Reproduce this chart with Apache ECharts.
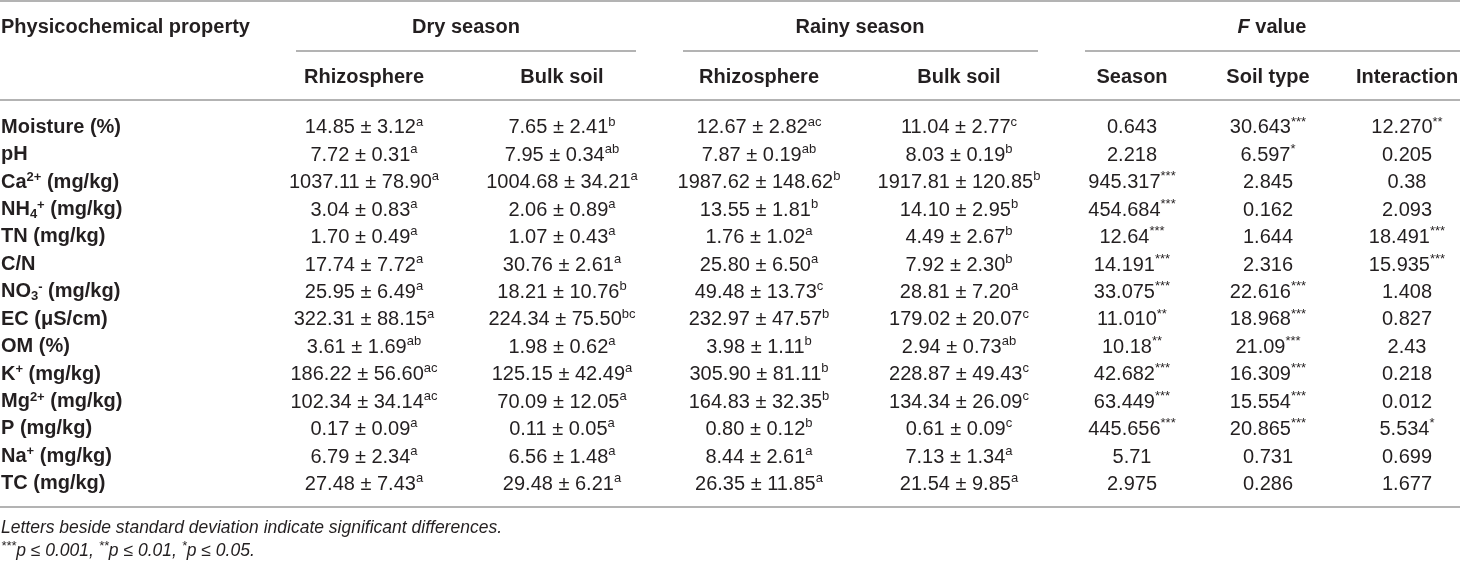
<!DOCTYPE html>
<html>
<head>
<meta charset="utf-8">
<script src="https://cdn.jsdelivr.net/npm/echarts@6/dist/echarts.min.js"></script>
<style>
  html, body { margin: 0; padding: 0; background: #fff; }
  #main { width: 1460px; height: 564px; }
</style>
</head>
<body>
<div id="main"></div>
<script>
// 行名（富文本：supB 上标，subB 下标）
var properties = [
  'Moisture (%)', 'pH', 'Ca{supB|2+} (mg/kg)', 'NH{subB|4}{supB|+} (mg/kg)', 'TN (mg/kg)', 'C/N',
  'NO{subB|3}{supB|-} (mg/kg)', 'EC (\u03bcS/cm)', 'OM (%)', 'K{supB|+} (mg/kg)', 'Mg{supB|2+} (mg/kg)',
  'P (mg/kg)', 'Na{supB|+} (mg/kg)', 'TC (mg/kg)'
];

// 均值 ± 标准差，显著性字母
var dryRhizo = [
  ['14.85', '3.12', 'a'], ['7.72', '0.31', 'a'], ['1037.11', '78.90', 'a'], ['3.04', '0.83', 'a'],
  ['1.70', '0.49', 'a'], ['17.74', '7.72', 'a'], ['25.95', '6.49', 'a'], ['322.31', '88.15', 'a'],
  ['3.61', '1.69', 'ab'], ['186.22', '56.60', 'ac'], ['102.34', '34.14', 'ac'], ['0.17', '0.09', 'a'],
  ['6.79', '2.34', 'a'], ['27.48', '7.43', 'a']
];
var dryBulk = [
  ['7.65', '2.41', 'b'], ['7.95', '0.34', 'ab'], ['1004.68', '34.21', 'a'], ['2.06', '0.89', 'a'],
  ['1.07', '0.43', 'a'], ['30.76', '2.61', 'a'], ['18.21', '10.76', 'b'], ['224.34', '75.50', 'bc'],
  ['1.98', '0.62', 'a'], ['125.15', '42.49', 'a'], ['70.09', '12.05', 'a'], ['0.11', '0.05', 'a'],
  ['6.56', '1.48', 'a'], ['29.48', '6.21', 'a']
];
var rainyRhizo = [
  ['12.67', '2.82', 'ac'], ['7.87', '0.19', 'ab'], ['1987.62', '148.62', 'b'], ['13.55', '1.81', 'b'],
  ['1.76', '1.02', 'a'], ['25.80', '6.50', 'a'], ['49.48', '13.73', 'c'], ['232.97', '47.57', 'b'],
  ['3.98', '1.11', 'b'], ['305.90', '81.11', 'b'], ['164.83', '32.35', 'b'], ['0.80', '0.12', 'b'],
  ['8.44', '2.61', 'a'], ['26.35', '11.85', 'a']
];
var rainyBulk = [
  ['11.04', '2.77', 'c'], ['8.03', '0.19', 'b'], ['1917.81', '120.85', 'b'], ['14.10', '2.95', 'b'],
  ['4.49', '2.67', 'b'], ['7.92', '2.30', 'b'], ['28.81', '7.20', 'a'], ['179.02', '20.07', 'c'],
  ['2.94', '0.73', 'ab'], ['228.87', '49.43', 'c'], ['134.34', '26.09', 'c'], ['0.61', '0.09', 'c'],
  ['7.13', '1.34', 'a'], ['21.54', '9.85', 'a']
];

// F 值与显著性星号
var fSeason = [
  ['0.643', ''], ['2.218', ''], ['945.317', '***'], ['454.684', '***'], ['12.64', '***'], ['14.191', '***'],
  ['33.075', '***'], ['11.010', '**'], ['10.18', '**'], ['42.682', '***'], ['63.449', '***'], ['445.656', '***'],
  ['5.71', ''], ['2.975', '']
];
var fSoilType = [
  ['30.643', '***'], ['6.597', '*'], ['2.845', ''], ['0.162', ''], ['1.644', ''], ['2.316', ''],
  ['22.616', '***'], ['18.968', '***'], ['21.09', '***'], ['16.309', '***'], ['15.554', '***'], ['20.865', '***'],
  ['0.731', ''], ['0.286', '']
];
var fInteraction = [
  ['12.270', '**'], ['0.205', ''], ['0.38', ''], ['2.093', ''], ['18.491', '***'], ['15.935', '***'],
  ['1.408', ''], ['0.827', ''], ['2.43', ''], ['0.218', ''], ['0.012', ''], ['5.534', '*'],
  ['0.699', ''], ['1.677', '']
];

var groupHeaders = ['Dry season', 'Rainy season', '{it|F} value'];
var subHeaders = ['Rhizosphere', 'Bulk soil', 'Rhizosphere', 'Bulk soil', 'Season', 'Soil type', 'Interaction'];
var firstHeader = 'Physicochemical property';
var notes = [
  'Letters beside standard deviation indicate significant differences.',
  '{supI|***}{ni|p \u2264 0.001, }{supI|**}{ni|p \u2264 0.01, }{supI|*}{ni|p \u2264 0.05.}'
];

// 版式（列中心位置）
var colX = [364, 562, 759, 959, 1132, 1268, 1407];
var groupX = [466, 860, 1272];
var groupLine = [[296, 636], [683, 1038], [1085, 1460]];

var FONT = '"Liberation Sans", Arial, Helvetica, sans-serif';
var INK = '#231f20';
var RULE = '#9a9a9a';
var FS = 20;

var rich = {
  n: { fontSize: FS, fontFamily: FONT, fill: INK, verticalAlign: 'bottom', lineHeight: 22.5 },
  nB: { fontSize: FS, fontFamily: FONT, fontWeight: 'bold', fill: INK, verticalAlign: 'bottom', lineHeight: 21 },
  sup: { fontSize: 13, fontFamily: FONT, fill: INK, verticalAlign: 'top', lineHeight: 8 },
  supB: { fontSize: 13, fontFamily: FONT, fontWeight: 'bold', fill: INK, verticalAlign: 'top', lineHeight: 8 },
  subB: { fontSize: 13, fontFamily: FONT, fontWeight: 'bold', fill: INK, verticalAlign: 'top', lineHeight: 8, padding: [9, 0, 0, 0] },
  ni: { fontSize: 17.5, fontFamily: FONT, fontStyle: 'italic', fill: INK, verticalAlign: 'bottom', lineHeight: 20 },
  supI: { fontSize: 13, fontFamily: FONT, fontStyle: 'italic', fill: INK, verticalAlign: 'top', lineHeight: 8 },
  it: { fontSize: FS, fontFamily: FONT, fontStyle: 'italic', fontWeight: 'bold', fill: INK }
};

// 把普通文字包进 n / nB 样式，使上下标能相对正文定位
function wrap(str, style) {
  return str.split(/(\{[^}]*\})/).map(function (s) {
    if (!s) return '';
    return s.charAt(0) === '{' ? s : '{' + style + '|' + s + '}';
  }).join('');
}

// 构造单元格数据：[x, 行号, 富文本, 是否加粗, 对齐]
var cells = [];
properties.forEach(function (p, i) {
  cells.push([0, i, wrap(p, 'nB'), 1, 'left']);
});
[dryRhizo, dryBulk, rainyRhizo, rainyBulk].forEach(function (col, j) {
  col.forEach(function (v, i) {
    cells.push([colX[j], i, '{n|' + v[0] + ' \u00b1 ' + v[1] + '}{sup|' + v[2] + '}', 0, 'center']);
  });
});
[fSeason, fSoilType, fInteraction].forEach(function (col, j) {
  col.forEach(function (v, i) {
    cells.push([colX[j + 4], i, '{n|' + v[0] + '}' + (v[1] ? '{sup|' + v[1] + '}' : ''), 0, 'center']);
  });
});

var chart = echarts.init(document.getElementById('main'), null, { renderer: 'canvas' });

var graphics = [];
function line(x1, y1, x2, y2) {
  graphics.push({ type: 'line', shape: { x1: x1, y1: y1, x2: x2, y2: y2 }, style: { stroke: RULE, lineWidth: 1.5 }, silent: true });
}
function text(str, x, y, opt) {
  graphics.push({
    type: 'text', x: x, y: y, silent: true,
    style: Object.assign({
      text: str, fill: INK, fontSize: FS, fontFamily: FONT, fontWeight: 'bold',
      align: 'center', verticalAlign: 'middle', rich: rich
    }, opt || {})
  });
}
line(0, 1, 1460, 1);
groupLine.forEach(function (g) { line(g[0], 51, g[1], 51); });
line(0, 100, 1460, 100);
line(0, 507, 1460, 507);
text(firstHeader, 1, 27, { align: 'left' });
groupHeaders.forEach(function (g, k) { text(g, groupX[k], 27); });
subHeaders.forEach(function (s, k) { text(s, colX[k], 77); });
text(notes[0], 1, 528, { align: 'left', fontWeight: 'normal', fontStyle: 'italic', fontSize: 17.5 });
text(notes[1], 1, 550, { align: 'left', fontWeight: 'normal', fontStyle: 'italic', fontSize: 17.5 });

var option = {
  backgroundColor: '#fff',
  animation: false,
  grid: { left: 0, right: 0, top: 113, height: 384 },
  xAxis: { type: 'value', min: 0, max: 1460, show: false },
  yAxis: { type: 'category', inverse: true, show: false, data: properties.map(function (p, i) { return i; }) },
  graphic: graphics,
  series: [{
    type: 'custom',
    coordinateSystem: 'cartesian2d',
    data: cells,
    silent: true,
    renderItem: function (params, api) {
      var pt = api.coord([api.value(0), api.value(1)]);
      var d = cells[params.dataIndex];
      return {
        type: 'text',
        x: d[4] === 'left' ? 1 : pt[0],
        y: pt[1],
        style: {
          text: d[2],
          fill: INK,
          fontSize: FS,
          fontFamily: FONT,
          fontWeight: d[3] ? 'bold' : 'normal',
          align: d[4],
          verticalAlign: 'middle',
          rich: rich
        }
      };
    }
  }]
};

chart.setOption(option);
</script>
</body>
</html>
